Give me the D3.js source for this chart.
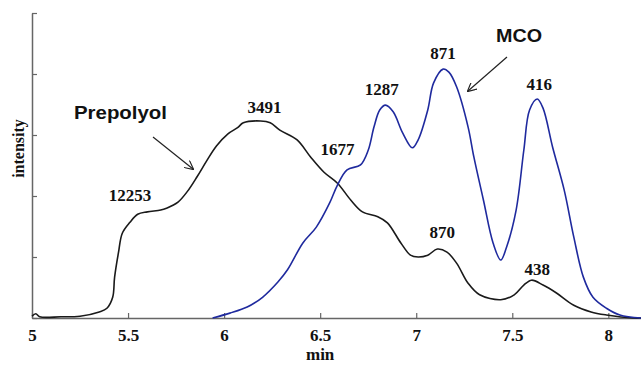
<!DOCTYPE html>
<html>
<head>
<meta charset="utf-8">
<script src="https://cdn.jsdelivr.net/npm/d3@7"></script>
<style>
  html, body { margin: 0; padding: 0; background: #fff; }
  svg { display: block; }
  .serif { font-family: "Liberation Serif", "Times New Roman", Times, serif; font-weight: bold; fill: #111; }
  .sans { font-family: "Liberation Sans", Arial, Helvetica, sans-serif; font-weight: bold; fill: #111; }
</style>
</head>
<body>
<svg id="chart" width="641" height="365"></svg>
<script>
// ---- Data ----
const xTicks = [5, 5.5, 6, 6.5, 7, 7.5, 8];
const yTicks = [0, 1, 2, 3, 4, 5];

const prepolyolX = [5.00, 5.02, 5.04, 5.15, 5.25, 5.35, 5.39, 5.42, 5.43, 5.45, 5.47, 5.51, 5.55, 5.60, 5.67, 5.70, 5.76, 5.81, 5.86, 5.91, 5.96, 6.02, 6.07, 6.10, 6.19, 6.24, 6.29, 6.38, 6.45, 6.52, 6.59, 6.66, 6.72, 6.80, 6.85, 6.92, 6.97, 7.01, 7.06, 7.11, 7.16, 7.21, 7.27, 7.33, 7.44, 7.51, 7.56, 7.60, 7.66, 7.73, 7.82, 7.91, 7.99, 8.13, 8.17];
const prepolyolY = [0.03, 0.07, 0.02, 0.02, 0.03, 0.10, 0.16, 0.34, 0.67, 1.07, 1.39, 1.57, 1.70, 1.74, 1.77, 1.80, 1.90, 2.08, 2.32, 2.58, 2.82, 3.02, 3.12, 3.20, 3.23, 3.20, 3.08, 2.92, 2.64, 2.39, 2.21, 1.93, 1.74, 1.66, 1.56, 1.23, 1.03, 1.00, 1.03, 1.13, 1.08, 0.90, 0.57, 0.38, 0.30, 0.38, 0.54, 0.62, 0.54, 0.41, 0.21, 0.10, 0.05, 0.00, 0.00];

const mcoX = [5.94, 6.03, 6.12, 6.20, 6.28, 6.33, 6.41, 6.48, 6.55, 6.59, 6.64, 6.71, 6.75, 6.78, 6.81, 6.84, 6.88, 6.93, 6.98, 7.01, 7.06, 7.09, 7.14, 7.17, 7.21, 7.27, 7.30, 7.35, 7.40, 7.44, 7.47, 7.52, 7.56, 7.59, 7.63, 7.66, 7.71, 7.77, 7.82, 7.87, 7.92, 7.99, 8.06, 8.17];
const mcoY = [0.00, 0.08, 0.18, 0.34, 0.59, 0.79, 1.23, 1.49, 1.89, 2.18, 2.43, 2.51, 2.75, 3.13, 3.41, 3.49, 3.38, 3.03, 2.79, 2.92, 3.41, 3.85, 4.08, 4.03, 3.79, 3.13, 2.64, 1.93, 1.23, 0.95, 1.16, 1.77, 2.75, 3.41, 3.59, 3.44, 2.80, 2.10, 1.33, 0.67, 0.34, 0.16, 0.05, 0.00];

const peakLabels = ["12253", "3491", "1677", "1287", "871", "416", "870", "438"];
const peakLabelX = [5.51, 6.21, 6.59, 6.82, 7.14, 7.64, 7.135, 7.63];
const peakLabelY = [1.92, 3.36, 2.67, 3.66, 4.25, 3.74, 1.31, 0.70];

// ---- Layout ----
const svg = d3.select("#chart");
const mLeft = 32, mRight = 641, mTop = 13, mBottom = 318;

const x = d3.scaleLinear().domain([5, 8.17]).range([mLeft, mRight]);
const y = d3.scaleLinear().domain([0, 5]).range([mBottom, mTop]);

const axisColor = "#666";

// X axis
const gx = svg.append("g")
  .attr("transform", `translate(0,${mBottom})`)
  .call(d3.axisBottom(x).tickValues(xTicks).tickFormat(d => String(d))
    .tickSizeInner(-5).tickSizeOuter(0).tickPadding(11));
gx.attr("font-family", null).attr("font-size", null);
gx.select(".domain").attr("stroke", axisColor).attr("stroke-width", 1.5);
gx.selectAll(".tick line").attr("stroke", axisColor).attr("stroke-width", 1.2);
gx.selectAll(".tick text").attr("class", "serif").attr("fill", null)
  .style("font-size", "17px");

// Y axis
const gy = svg.append("g")
  .attr("transform", `translate(${mLeft},0)`)
  .call(d3.axisLeft(y).tickValues(yTicks).tickFormat("")
    .tickSizeInner(-5).tickSizeOuter(0));
gy.select(".domain").attr("stroke", axisColor).attr("stroke-width", 1.5);
gy.selectAll(".tick line").attr("stroke", axisColor).attr("stroke-width", 1.2);

// Axis titles
svg.append("text").attr("class", "serif")
  .attr("x", x(6.5)).attr("y", 360)
  .attr("text-anchor", "middle")
  .style("font-size", "17px")
  .text("min");
svg.append("text").attr("class", "serif")
  .attr("transform", `translate(24,${(mTop + mBottom) / 2 - 17}) rotate(-90)`)
  .attr("text-anchor", "middle")
  .style("font-size", "16px")
  .text("intensity");

// Lines
const line = d3.line()
  .x(d => x(d[0])).y(d => y(d[1]))
  .curve(d3.curveCatmullRom.alpha(0.5));

const prepolyol = prepolyolX.map((v, i) => [v, prepolyolY[i]]);
const mco = mcoX.map((v, i) => [v, mcoY[i]]);

svg.append("path").datum(prepolyol)
  .attr("d", line).attr("fill", "none")
  .attr("stroke", "#1a1a1a").attr("stroke-width", 1.6);
svg.append("path").datum(mco)
  .attr("d", line).attr("fill", "none")
  .attr("stroke", "#1f2a9e").attr("stroke-width", 1.6);

// Peak labels
svg.append("g").selectAll("text").data(peakLabels).join("text")
  .attr("class", "serif")
  .attr("x", (d, i) => x(peakLabelX[i]))
  .attr("y", (d, i) => y(peakLabelY[i]))
  .attr("text-anchor", "middle")
  .style("font-size", "17px")
  .text(d => d);

// Arrow marker
svg.append("defs").append("marker")
  .attr("id", "arrow").attr("viewBox", "0 0 10 10")
  .attr("refX", 9).attr("refY", 5)
  .attr("markerWidth", 9).attr("markerHeight", 9)
  .attr("markerUnits", "userSpaceOnUse")
  .attr("orient", "auto")
  .append("path").attr("d", "M0,0 L10,5 L0,10").attr("fill", "none")
  .attr("stroke", "#222").attr("stroke-width", 1.3);

// Series annotations
svg.append("text").attr("class", "sans")
  .attr("x", 74).attr("y", 119)
  .style("font-size", "19px")
  .attr("textLength", 93).attr("lengthAdjust", "spacingAndGlyphs")
  .text("Prepolyol");
svg.append("line")
  .attr("x1", 153).attr("y1", 137).attr("x2", 193).attr("y2", 169)
  .attr("stroke", "#222").attr("stroke-width", 1.2).attr("marker-end", "url(#arrow)");

svg.append("text").attr("class", "sans")
  .attr("x", 496).attr("y", 42)
  .style("font-size", "19px")
  .attr("textLength", 46).attr("lengthAdjust", "spacingAndGlyphs")
  .text("MCO");
svg.append("line")
  .attr("x1", 507).attr("y1", 57).attr("x2", 468).attr("y2", 91)
  .attr("stroke", "#222").attr("stroke-width", 1.2).attr("marker-end", "url(#arrow)");
</script>
</body>
</html>
